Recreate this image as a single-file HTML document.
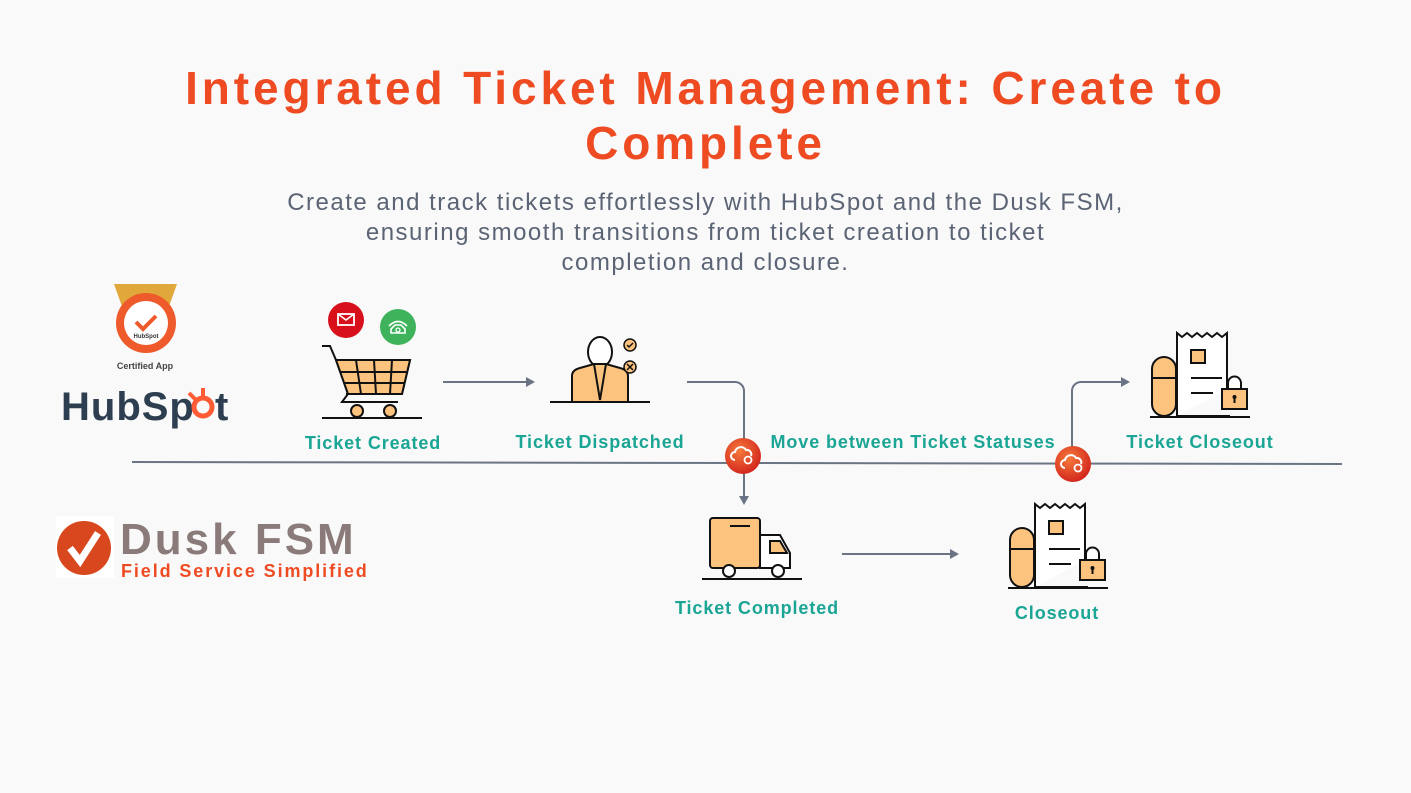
<!DOCTYPE html>
<html><head><meta charset="utf-8"><style>
html,body{margin:0;padding:0;background:#f9f9f9;}
body{width:1411px;height:793px;overflow:hidden;position:relative;font-family:"Liberation Sans",sans-serif;}
.t{position:absolute;left:0;width:1411px;text-align:center;color:#ee4b23;font-weight:bold;font-size:46px;letter-spacing:3.9px;}
.s{position:absolute;left:0;width:1411px;text-align:center;color:#5b6475;font-size:24px;line-height:30px;letter-spacing:1.5px;}
</style></head><body>
<div class="t" style="top:61px">Integrated Ticket Management: Create to</div>
<div class="t" style="top:116px">Complete</div>
<div class="s" style="top:188px">Create and track tickets effortlessly with HubSpot and the Dusk FSM,<br>ensuring smooth transitions from ticket creation to ticket<br>completion and closure.</div>
<svg width="1411" height="793" style="position:absolute;left:0;top:0" xmlns="http://www.w3.org/2000/svg">
<defs>
<radialGradient id="rg" cx="0.4" cy="0.35" r="0.7"><stop offset="0" stop-color="#f57a3a"/><stop offset="1" stop-color="#d1221c"/></radialGradient>
<g id="rc">
<rect x="2" y="24" width="24" height="59" rx="12" fill="#fcc37f" stroke="#111" stroke-width="2"/>
<line x1="2" y1="45" x2="26" y2="45" stroke="#111" stroke-width="2"/>
<path d="M27 83 V0 l5 4 5-4 5 4 5-4 5 4 5-4 5 4 5-4 5 4 5-4 V56" fill="#fff" stroke="#111" stroke-width="2"/>
<path d="M27 83 H80" stroke="#111" stroke-width="2"/>
<rect x="41" y="17" width="14" height="13" fill="#fcc37f" stroke="#111" stroke-width="2"/>
<line x1="41" y1="45" x2="72" y2="45" stroke="#111" stroke-width="2"/>
<line x1="41" y1="60" x2="63" y2="60" stroke="#111" stroke-width="2"/>
<path d="M78 56 v-6 a6.5 6.5 0 0 1 13 0 v6" fill="#fff" stroke="#111" stroke-width="2"/>
<rect x="72" y="56" width="25" height="20" fill="#fcc37f" stroke="#111" stroke-width="2"/>
<circle cx="84.5" cy="64" r="2" fill="#111"/><line x1="84.5" y1="64" x2="84.5" y2="70" stroke="#111" stroke-width="2"/>
<line x1="0" y1="84" x2="100" y2="84" stroke="#111" stroke-width="2"/>
</g>
<g id="cl">
<circle r="18" fill="url(#rg)"/>
<path d="M-8 4 a4 4 0 0 1 0-8 a6 6 0 0 1 11-2 a4.5 4.5 0 0 1 5 6" fill="none" stroke="#fff" stroke-width="2"/>
<circle cx="5" cy="4" r="3.5" fill="none" stroke="#fff" stroke-width="1.8"/>
</g>
</defs>
<line x1="132" y1="462" x2="1342" y2="464" stroke="#6a7484" stroke-width="2"/>
<g stroke="#6a7484" stroke-width="2" fill="none">
<line x1="443" y1="382" x2="527" y2="382"/>
<path d="M687 382 H735 a9 9 0 0 1 9 9 V497"/>
<line x1="842" y1="554" x2="951" y2="554"/>
<path d="M1072 482 V391 a9 9 0 0 1 9 -9 H1122"/>
</g>
<g fill="#6a7484">
<path d="M535 382 l-9 -5 v10z"/><path d="M744 505 l-5 -9 h10z"/><path d="M959 554 l-9 -5 v10z"/><path d="M1130 382 l-9 -5 v10z"/>
</g>
<use href="#cl" x="743" y="456"/>
<use href="#cl" x="1073" y="464"/>
<circle cx="346" cy="320" r="18" fill="#d7101c"/><rect x="338" y="314" width="16" height="11" fill="none" stroke="#fff" stroke-width="1.8"/><path d="M338 314 l8 6 8-6" stroke="#fff" fill="none" stroke-width="1.6"/>
<circle cx="398" cy="327" r="18" fill="#3fb35b"/><path d="M389 326 q9 -9 18 0 M391 333 h14 v-4 l-4-4 h-6 l-4 4z" fill="none" stroke="#fff" stroke-width="1.6"/><circle cx="398" cy="330" r="2" fill="none" stroke="#fff" stroke-width="1.3"/>
<path d="M322 346 h8 l6 14 h74 l-8 34 h-56 M336 360 l12 34 l-6 8 h56" fill="none" stroke="#111" stroke-width="2"/>
<path d="M336 360 h74 l-8 34 h-54z" fill="#fcc37f" stroke="#111" stroke-width="2"/>
<g stroke="#111" stroke-width="2"><line x1="340" y1="372" x2="407" y2="372"/><line x1="344" y1="383" x2="404" y2="383"/><line x1="356" y1="360" x2="361" y2="394"/><line x1="374" y1="360" x2="376" y2="394"/><line x1="392" y1="360" x2="390" y2="394"/></g>
<circle cx="357" cy="411" r="6" fill="#fcc37f" stroke="#111" stroke-width="2"/><circle cx="390" cy="411" r="6" fill="#fcc37f" stroke="#111" stroke-width="2"/>
<line x1="322" y1="418" x2="422" y2="418" stroke="#111" stroke-width="2"/>
<ellipse cx="600" cy="352" rx="12" ry="15" fill="#fff" stroke="#111" stroke-width="2"/>
<path d="M572 402 v-26 q0-6 8-8 l14-4 h12 l14 4 q8 2 8 8 v26z" fill="#fcc37f" stroke="#111" stroke-width="2"/>
<path d="M594 364 l6 36 6-36" fill="none" stroke="#111" stroke-width="2"/>
<circle cx="630" cy="345" r="6" fill="#fcc37f" stroke="#111" stroke-width="1.5"/><path d="M627 345 l2 2 4-4" stroke="#111" fill="none" stroke-width="1.5"/>
<circle cx="630" cy="367" r="6" fill="#fcc37f" stroke="#111" stroke-width="1.5"/><path d="M627 364 l6 6 M633 364 l-6 6" stroke="#111" stroke-width="1.5"/>
<line x1="550" y1="402" x2="650" y2="402" stroke="#111" stroke-width="2"/>
<rect x="710" y="518" width="50" height="50" rx="3" fill="#fcc37f" stroke="#111" stroke-width="2"/>
<path d="M760 535 h20 l10 18 v15 h-30z" fill="#fff" stroke="#111" stroke-width="2"/>
<path d="M770 541 h10 l7 12 h-17z" fill="#fcc37f" stroke="#111" stroke-width="2"/>
<line x1="730" y1="526" x2="750" y2="526" stroke="#111" stroke-width="2"/>
<circle cx="729" cy="571" r="6" fill="#fff" stroke="#111" stroke-width="2"/><circle cx="778" cy="571" r="6" fill="#fff" stroke="#111" stroke-width="2"/>
<line x1="702" y1="579" x2="802" y2="579" stroke="#111" stroke-width="2"/>
<use href="#rc" x="1150" y="333"/>
<use href="#rc" x="1008" y="504"/>
<g font-family="Liberation Sans, sans-serif" font-weight="bold" font-size="18" fill="#1aa595" text-anchor="middle" letter-spacing="0.9">
<text x="373" y="449">Ticket Created</text>
<text x="600" y="448">Ticket Dispatched</text>
<text x="913" y="448">Move between Ticket Statuses</text>
<text x="1200" y="448">Ticket Closeout</text>
<text x="757" y="614">Ticket Completed</text>
<text x="1057" y="619">Closeout</text>
</g>
<path d="M114 284 h63 l-10 28 h-43z" fill="#e0a83a"/>
<circle cx="146" cy="323" r="30" fill="#ee5a2b"/>
<circle cx="146" cy="323" r="22" fill="#fff"/>
<path d="M136 322 l7 7 13-13" fill="none" stroke="#ee5a2b" stroke-width="4"/>
<text x="146" y="338" font-size="6" text-anchor="middle" fill="#333" font-weight="bold">HubSpot</text>
<text x="145" y="369" font-size="9" text-anchor="middle" fill="#444" font-weight="bold">Certified App</text>
<text x="61" y="420" font-size="40" font-weight="bold" fill="#2d3e50" letter-spacing="1">HubSp</text>
<circle cx="203" cy="407" r="9" fill="none" stroke="#ff5c35" stroke-width="5"/>
<path d="M197 401 l-8-8 M203 398 v-10" stroke="#ff5c35" stroke-width="4"/>
<text x="215" y="420" font-size="40" font-weight="bold" fill="#2d3e50">t</text>
<rect x="56" y="516" width="58" height="62" fill="#fff"/>
<circle cx="84" cy="548" r="27" fill="#d9471f"/>
<path d="M70 548 l10 13 18-28" fill="none" stroke="#fff" stroke-width="7"/>
<text x="120" y="554" font-size="44" font-weight="bold" fill="#8a7b7a" letter-spacing="3">Dusk FSM</text>
<text x="121" y="577" font-size="18" font-weight="bold" fill="#ee4b23" letter-spacing="1.9">Field Service Simplified</text>
</svg>
</body></html>
